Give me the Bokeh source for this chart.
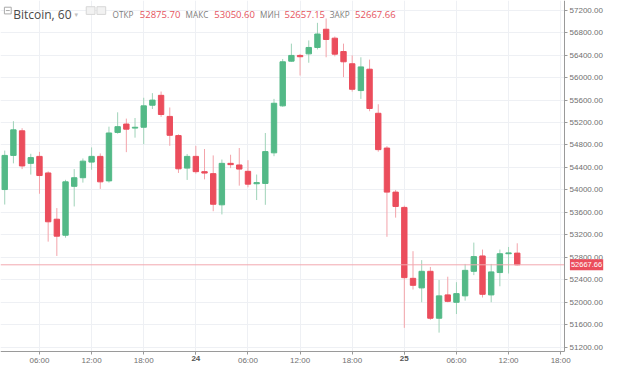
from bokeh.plotting import figure
from bokeh.models import Range1d, FixedTicker, NumeralTickFormatter, Label, LinearAxis, BoxAnnotation
from bokeh.embed import file_html
from bokeh.resources import INLINE

# ---- data: hourly candles, hour index counted from 23rd 00:00 ----
hours = list(range(2, 62))
opens = [54007, 54614, 55052, 54473, 54597, 54302, 53479, 53194, 54064, 54217,
         54495, 54597, 54161, 55023, 55172, 55100, 55115, 55507, 55683, 55308,
         54967, 54388, 54597, 54325, 54290, 53735, 54473, 54444, 54331, 54110,
         54115, 54660, 55496, 56291, 56393, 56421, 56535, 56859, 56700, 56462,
         56245, 55768, 56148, 55364, 54745, 53961, 53689, 52427, 52257, 52552,
         51717, 52132, 52001, 52115, 52552, 52825, 52132, 52530, 52865, 52875.70]
highs = [54700, 55223, 55098, 54643, 54677, 54330, 53677, 54180, 54371, 54560,
         54757, 54650, 55126, 55381, 55269, 55280, 55640, 55722, 55751, 55467,
         54990, 54640, 54785, 54728, 54614, 54541, 54626, 54746, 54529, 54274,
         55013, 55620, 56330, 56603, 56420, 56660, 56973, 57050, 56730, 56603,
         56394, 56360, 56319, 55524, 54780, 54000, 53720, 52910, 52751, 52630,
         52398, 52456, 52359, 52683, 53063, 52939, 52683, 52939, 52985, 53050.60]
lows = [53740, 54473, 54371, 54273, 53932, 53080, 52825, 53150, 53706, 54130,
        54359, 54018, 54130, 55000, 54672, 54930, 54814, 55440, 55300, 54785,
        54302, 54178, 54290, 54188, 53621, 53564, 54388, 54076, 54047, 53820,
        53735, 54600, 55480, 56280, 56036, 56263, 56500, 56360, 56377, 56007,
        55750, 55620, 55400, 54680, 53166, 53507, 51546, 52228, 52001, 51689,
        51461, 52000, 51792, 52030, 52484, 52086, 52001, 52286, 52513, 52657.15]
closes = [54614, 55069, 54427, 54575, 54256, 53433, 53177, 54144, 54217, 54512,
          54597, 54144, 55013, 55126, 55081, 55115, 55496, 55598, 55342, 54972,
          54376, 54597, 54325, 54300, 53745, 54473, 54450, 54371, 54103, 54130,
          54682, 55542, 56280, 56393, 56370, 56535, 56774, 56677, 56416, 56280,
          55791, 56189, 55449, 54717, 53961, 53706, 52439, 52303, 52552, 51717,
          52115, 52018, 52155, 52569, 52814, 52143, 52541, 52865, 52880, 52667.66]

last_price = 52667.66
x_ticks = [6, 12, 18, 24, 30, 36, 42, 48, 54, 60, 66]
x_tick_labels = ["06:00", "12:00", "18:00", "24", "06:00", "12:00", "18:00", "25",
                 "06:00", "12:00", "18:00"]
day_ticks = [24, 48]
y_ticks = [51200, 51600, 52000, 52400, 52800, 53200, 53600, 54000, 54400,
           54800, 55200, 55600, 56000, 56400, 56800, 57200]

header_title = "Bitcoin, 60"
header_names = ["ОТКР", "МАКС", "МИН", "ЗАКР"]
header_values = ["52875.70", "53050.60", "52657.15", "52667.66"]

UP = "#53b987"
DOWN = "#eb4d5c"

# layout helpers (reference pixel -> data)
PX_PER_H = 8.917
def fx(xr):
    return (xr + 13.5) / PX_PER_H
def fy(yr):
    return 57200 - (yr - 10) * 6000 / 352.0

X_AX = fx(579)   # price axis position
Y_AX = fy(366)   # time axis position

p = figure(width=604, height=365, output_backend="svg", toolbar_location=None,
           x_range=Range1d(fx(0), fx(620)), y_range=Range1d(fy(381), fy(0)),
           y_axis_location="right", min_border_left=0, min_border_top=0,
           min_border_right=0, min_border_bottom=0)
p.outline_line_color = None
p.background_fill_color = "white"

def style_axis(ax):
    ax.axis_line_color = "#9a9a9a"
    ax.major_tick_line_color = "#9a9a9a"
    ax.major_tick_out = 3
    ax.major_tick_in = 0
    ax.minor_tick_line_color = None
    ax.major_label_text_font = "Liberation Sans"
    ax.major_label_text_font_size = "8px"
    ax.major_label_text_color = "#707070"
    ax.major_label_standoff = 2

xa = p.xaxis[0]
xa.ticker = FixedTicker(ticks=x_ticks)
xa.major_label_overrides = {t: ("" if t in day_ticks else l) for t, l in zip(x_ticks, x_tick_labels)}
xa.fixed_location = Y_AX
xa.bounds = (fx(0), X_AX)
style_axis(xa)

ya = p.yaxis[0]
ya.ticker = FixedTicker(ticks=y_ticks)
ya.formatter = NumeralTickFormatter(format="0.00")
ya.fixed_location = X_AX
ya.bounds = (Y_AX, fy(0))
style_axis(ya)

# day labels in bold on a second axis at the same place
xd = LinearAxis(ticker=FixedTicker(ticks=day_ticks), fixed_location=Y_AX, bounds=(fx(0), X_AX),
                major_label_overrides={t: l for t, l in zip(x_ticks, x_tick_labels) if t in day_ticks})
style_axis(xd)
xd.axis_line_color = None
xd.major_label_text_font_style = "bold"
xd.major_label_text_color = "#555555"
p.add_layout(xd, "below")

p.xgrid.grid_line_color = "#eef0f4"
p.ygrid.grid_line_color = "#eef0f4"

# keep the axis strips free of grid lines
p.add_layout(BoxAnnotation(left=X_AX, fill_color="white", fill_alpha=1, line_color=None, level="glyph"))
p.add_layout(BoxAnnotation(top=Y_AX, fill_color="white", fill_alpha=1, line_color=None, level="glyph"))

# candles
wick_col = []
body_col = []
tops = []
bots = []
for o, c in zip(opens, closes):
    up = c >= o
    body_col.append(UP if up else DOWN)
    wick_col.append("#9fd3b9" if up else "#f3a3aa")
    tops.append(max(o, c))
    bots.append(min(o, c))

p.segment(x0=hours, x1=hours, y0=lows, y1=highs, line_color=wick_col, line_width=1)
p.vbar(x=hours, width=0.62, top=tops, bottom=bots, fill_color=body_col, line_color=body_col, line_width=1)

# last price line and its box on the axis
p.segment(x0=[fx(0)], x1=[X_AX], y0=[last_price], y1=[last_price], line_color="#f2a9af", line_width=1)
p.add_layout(Label(x=fx(584.5), y=last_price, text=f"{last_price:.2f}", text_align="left",
                   text_baseline="middle", text_font="Liberation Sans", text_font_size="7.5px",
                   text_color="white", background_fill_color=DOWN, padding=(1, 3)))

# header
p.quad(left=[fx(4)], right=[fx(11)], top=[fy(7)], bottom=[fy(14)], fill_color="white",
       line_color="#aaaaaa", line_width=1)
p.segment(x0=[fx(5.5)], x1=[fx(9.5)], y0=[fy(10.5)], y1=[fy(10.5)], line_color="#aaaaaa", line_width=1)
p.add_layout(Label(x=fx(13), y=fy(15), text=header_title, text_font="Open Sans",
                   text_font_size="12px", text_color="#4a4a4a", text_baseline="alphabetic"))
p.add_layout(Label(x=fx(76), y=fy(15), text="▾", text_font="DejaVu Sans",
                   text_font_size="7px", text_color="#c0c0c0", text_baseline="alphabetic"))
p.quad(left=[fx(88), fx(99)], right=[fx(97), fx(108)], top=[fy(6.5), fy(6.5)], bottom=[fy(14.5), fy(14.5)],
       fill_color="#f2f2f2", line_color="#d6d6d6", line_width=1)

name_x = [115, 190, 266.5, 338]
val_x = [143, 219.5, 291.5, 364]
for nx, vx, n, v in zip(name_x, val_x, header_names, header_values):
    p.add_layout(Label(x=fx(nx), y=fy(15), text=n, text_font="Open Sans", text_font_size="8.2px",
                       text_color="#7d7d7d", text_baseline="alphabetic"))
    p.add_layout(Label(x=fx(vx), y=fy(15), text=v, text_font="Open Sans", text_font_size="9.5px",
                       text_color="#e5535e", text_baseline="alphabetic"))

open("out.html", "w").write(file_html(p, INLINE))
